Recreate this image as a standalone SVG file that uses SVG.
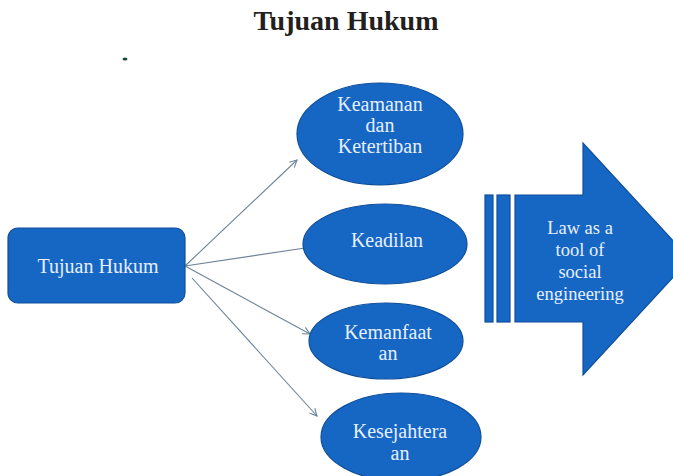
<svg xmlns="http://www.w3.org/2000/svg" width="673" height="476" viewBox="0 0 673 476">
  <style>
    .title { font-family: "Liberation Serif", serif; font-weight: bold; font-size: 28px; fill: #231f20; }
    .node { fill: #1666c4; stroke: #0f4f9c; stroke-width: 1.2; }
    .label { font-family: "Liberation Serif", serif; font-size: 20px; fill: #e6f0ff; text-anchor: middle; }
    .small { font-size: 18.5px; }
    .link { fill: none; stroke: #6d8297; stroke-width: 1.1; }
  </style>
  <defs>
    <marker id="open-arrow" viewBox="0 0 10 10" refX="9" refY="5" markerWidth="9" markerHeight="9" orient="auto" markerUnits="userSpaceOnUse">
      <path d="M1,1 L9,5 L1,9" fill="none" stroke="#6d8297" stroke-width="1.2"/>
    </marker>
  </defs>

  <rect width="673" height="476" fill="#ffffff"/>

  <text class="title" x="346" y="30" text-anchor="middle">Tujuan Hukum</text>

  <!-- small dark mark near the top left -->
  <ellipse cx="125" cy="59" rx="2.5" ry="1.5" fill="#1f4a3a"/>

  <g id="connectors">
    <line class="link" x1="185" y1="266" x2="297" y2="160" marker-end="url(#open-arrow)"/>
    <line class="link" x1="185" y1="266" x2="305" y2="248"/>
    <line class="link" x1="185" y1="266" x2="310" y2="334" marker-end="url(#open-arrow)"/>
    <line class="link" x1="192" y1="278" x2="317" y2="416" marker-end="url(#open-arrow)"/>
  </g>

  <g id="tujuan-hukum">
    <rect class="node" x="8" y="228" width="177" height="75" rx="10"/>
    <text class="label" x="98" y="273">Tujuan Hukum</text>
  </g>

  <g id="keamanan">
    <ellipse class="node" cx="380" cy="134" rx="83" ry="51"/>
    <text class="label" x="380" y="111">Keamanan</text>
    <text class="label" x="380" y="132">dan</text>
    <text class="label" x="380" y="153">Ketertiban</text>
  </g>

  <g id="keadilan">
    <ellipse class="node" cx="385" cy="244" rx="82" ry="40"/>
    <text class="label" x="387" y="247">Keadilan</text>
  </g>

  <g id="kemanfaatan">
    <ellipse class="node" cx="386" cy="341" rx="77" ry="38"/>
    <text class="label" x="388" y="339">Kemanfaat</text>
    <text class="label" x="388" y="360">an</text>
  </g>

  <g id="kesejahteraan">
    <ellipse class="node" cx="401" cy="437" rx="80" ry="44"/>
    <text class="label" x="400" y="438">Kesejahtera</text>
    <text class="label" x="400" y="460">an</text>
  </g>

  <g id="social-engineering">
    <rect class="node" x="485" y="195" width="8" height="127" stroke="none"/>
    <rect class="node" x="497" y="195" width="13" height="127" stroke="none"/>
    <path class="node" stroke="none" d="M515,195 L583,195 L583,143 L690,259 L583,375 L583,322 L515,322 Z"/>
    <text class="label small" x="580" y="234">Law as a</text>
    <text class="label small" x="580" y="256">tool of</text>
    <text class="label small" x="580" y="278">social</text>
    <text class="label small" x="580" y="300">engineering</text>
  </g>
</svg>
